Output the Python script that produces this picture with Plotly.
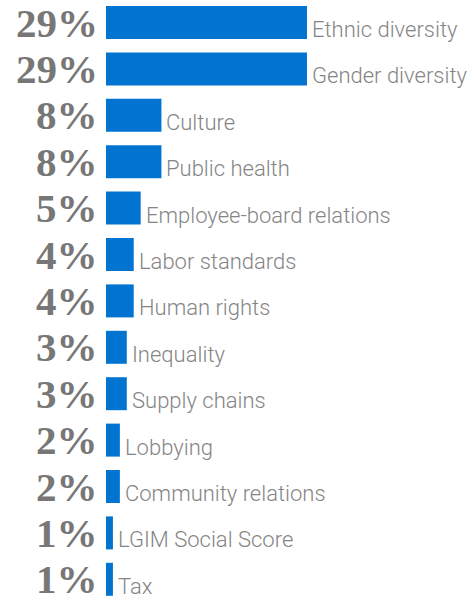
import plotly.graph_objects as go

categories = ["Ethnic diversity", "Gender diversity", "Culture", "Public health",
              "Employee-board relations", "Labor standards", "Human rights",
              "Inequality", "Supply chains", "Lobbying", "Community relations",
              "LGIM Social Score", "Tax"]
shares = [29, 29, 8, 8, 5, 4, 4, 3, 3, 2, 2, 1, 1]

bar_color = "#0074d0"
label_grey = "#858585"
pct_grey = "#777777"

W, H = 472, 598
left = 106
px_per_row = 46.4
px_per_pct = 6.93
top_cat = -22.5 / px_per_row

fig = go.Figure(go.Bar(
    x=shares, y=list(range(len(categories))), orientation="h",
    marker=dict(color=bar_color, line=dict(width=0)),
    width=33 / px_per_row,
    hoverinfo="skip",
))

annotations = []
for i, (cat, val) in enumerate(zip(categories, shares)):
    # category name just past the end of the bar
    annotations.append(dict(
        x=val, y=i, xref="x", yref="y", text=cat, showarrow=False,
        xanchor="left", yanchor="middle", xshift=3, yshift=-7,
        font=dict(family="Roboto", weight=300, size=22, color=label_grey),
    ))
    # big serif percentage on the left
    annotations.append(dict(
        x=0, y=i, xref="x", yref="y", text=f"<b>{val}%</b>", showarrow=False,
        xanchor="right", yanchor="middle", xshift=-6, yshift=0,
        font=dict(family="Georgia, Liberation Serif, serif", size=41, color=pct_grey),
    ))

fig.update_layout(
    width=W, height=H,
    margin=dict(l=left, r=0, t=0, b=0),
    paper_bgcolor="white", plot_bgcolor="white",
    showlegend=False,
    annotations=annotations,
    xaxis=dict(range=[0, (W - left) / px_per_pct], visible=False, fixedrange=True),
    yaxis=dict(range=[top_cat + H / px_per_row, top_cat], visible=False, fixedrange=True),
)

# drop the default 8px page margin so the figure fills the window exactly
fig.write_html("out.html", config={"displayModeBar": False},
               post_script="document.body.style.margin='0';document.body.style.overflow='hidden';")
